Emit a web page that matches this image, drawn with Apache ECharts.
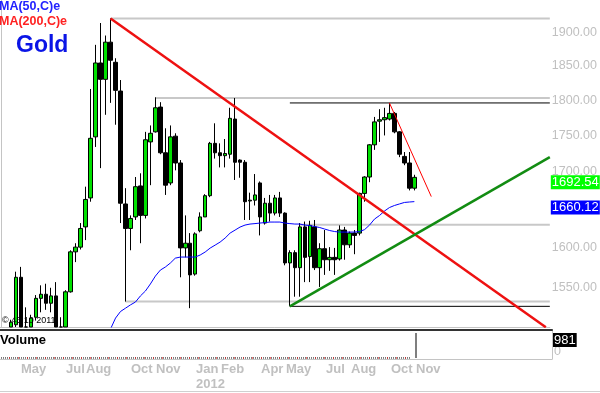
<!DOCTYPE html>
<html>
<head>
<meta charset="utf-8">
<style>
  html, body { margin: 0; padding: 0; background: #fff; }
  #chart { width: 600px; height: 393px; }
</style>
<script src="https://cdn.jsdelivr.net/npm/echarts@6/dist/echarts.min.js"></script>
</head>
<body>
<div id="chart"></div>
<script>
/* ===== Gold weekly chart (week index 0 = week of 4 Apr 2011) ===== */

const firstWeek = 2;
// [open, close, low, high]
const candles = [
  [1492, 1508, 1485, 1511], [1505, 1563, 1500, 1570], [1563, 1491, 1462, 1576], [1496, 1492, 1478, 1526],
  [1494, 1513, 1480, 1517], [1514, 1537, 1510, 1541], [1537, 1542, 1520, 1553], [1542, 1531, 1523, 1555],
  [1531, 1540, 1520, 1550], [1540, 1500, 1495, 1557], [1500, 1485, 1478, 1514], [1485, 1545, 1482, 1547],
  [1545, 1595, 1544, 1597], [1595, 1601, 1582, 1606], [1601, 1625, 1598, 1632], [1627, 1663, 1610, 1680],
  [1665, 1746, 1660, 1816], [1748, 1854, 1734, 1881], [1854, 1830, 1705, 1914], [1830, 1885, 1779, 1895],
  [1885, 1858, 1796, 1921], [1855, 1814, 1765, 1861], [1813, 1658, 1632, 1829], [1657, 1625, 1533, 1678],
  [1625, 1638, 1597, 1642], [1640, 1680, 1636, 1693], [1681, 1642, 1606, 1698], [1642, 1744, 1638, 1755],
  [1741, 1753, 1682, 1764], [1755, 1789, 1754, 1804], [1790, 1726, 1724, 1797], [1726, 1682, 1669, 1760],
  [1685, 1748, 1682, 1764], [1749, 1712, 1702, 1753], [1712, 1600, 1563, 1716], [1600, 1606, 1588, 1642],
  [1606, 1566, 1525, 1619], [1567, 1618, 1565, 1620], [1622, 1640, 1620, 1646], [1640, 1668, 1640, 1670],
  [1668, 1739, 1666, 1741], [1739, 1726, 1718, 1767], [1726, 1722, 1706, 1739], [1722, 1725, 1706, 1745],
  [1724, 1774, 1718, 1789], [1773, 1713, 1689, 1803], [1716, 1713, 1692, 1717], [1713, 1660, 1636, 1716],
  [1661, 1662, 1636, 1672], [1662, 1669, 1655, 1697], [1685, 1640, 1616, 1687], [1632, 1658, 1630, 1665],
  [1658, 1645, 1634, 1669], [1645, 1665, 1642, 1669], [1665, 1645, 1640, 1673], [1645, 1581, 1578, 1646],
  [1581, 1594, 1527.24, 1597], [1594, 1575, 1539, 1597], [1575, 1627, 1539, 1632], [1627, 1588, 1557, 1634],
  [1589, 1629, 1557, 1635], [1627, 1575, 1572, 1636], [1575, 1599, 1551, 1606], [1599, 1585, 1566, 1623],
  [1585, 1588, 1571, 1601], [1588, 1585, 1566, 1600], [1586, 1623, 1584, 1629], [1623, 1604, 1585, 1627],
  [1604, 1619, 1600, 1621], [1619, 1616, 1592, 1623], [1619, 1671, 1616, 1672], [1671, 1693, 1660, 1694],
  [1693, 1737, 1686, 1738], [1737, 1769, 1730, 1776], [1770, 1772, 1741, 1787], [1772, 1775, 1750, 1789],
  [1773, 1781, 1771, 1795.9], [1781, 1755, 1753, 1783], [1755, 1724, 1720, 1756], [1721, 1712, 1709, 1727],
  [1712, 1678, 1675, 1727], [1678, 1692.54, 1675, 1696]
];

const ma50Start = 22;
const ma50 = [
  1500, 1513, 1521, 1525, 1529, 1532.5, 1540, 1546, 1554.7, 1564.5, 1572, 1575.8, 1580.8, 1587,
  1588.4, 1588.4, 1588.4, 1588.4, 1591, 1594.8, 1599.8, 1603.6, 1607.5, 1612.6, 1619, 1622.9,
  1626.8, 1629.4, 1630.7, 1631.3, 1632, 1632.6, 1633.3, 1633.3, 1633.3, 1632, 1631.3, 1630.7,
  1630.7, 1629.4, 1628.8, 1627.5, 1626.2, 1624.2, 1622.3, 1621, 1620.3, 1620.3, 1620.3, 1620.3,
  1621, 1623.5, 1629.4, 1637.2, 1641.8, 1647.7, 1652.3, 1655, 1657, 1659, 1659.6, 1660.12
];

// weeks 0..83, only the last week has a volume
const volumes = new Array(83).fill(0).concat([981]);

const monthTickWeeks = [4, 13, 17, 26, 31, 39, 44, 52, 57, 65, 70, 78, 83];
const monthTickLabels = ['May', 'Jul', 'Aug', 'Oct', 'Nov', 'Jan\n2012', 'Feb', 'Apr', 'May', 'Jul', 'Aug', 'Oct', 'Nov'];
const priceTicks = [1550, 1600, 1650, 1700, 1750, 1800, 1850, 1900, 1950];

const weekMin = -0.2;
const weekMax = 110.2;
const priceMin = 1502.3;
const priceMax = 1949.4;

const downTrend = [[22, 1921], [109.4, 1502]];
const upTrend = [[58, 1527.24], [weekMax, 1720]];
const shortDownTrend = [[78, 1795.9], [86.4, 1666.8]];
const grayLevels = [[22, 1921], [31, 1803], [25, 1533], [60, 1629.87]];
const fibLevels = [[58, 1795.90], [58, 1527.24]];
const levelNotes = [
  ['1.921', 59.2, 1904.8],
  ['1.803', 53.3, 1814.4],
  ['1.630', 65.3, 1642.4],
  ['1.533', 48.2, 1544.7],
  ['0.000 (1795.90)', 87, 1805.7],
  ['1.000 (1527.24)', 87, 1537.4]
];
const fibNote = ['0.618 (1629.86812)', 89.2, 1641];

const lastClose = 1692.54;
const lastMa50 = 1660.12;
const lastVolume = 981;

const font = '"Liberation Sans", Arial, sans-serif';
const axisGray = '#c4c4c4';
const ln = Math.log;
// candlestick clip only drops whole boxes, so cut prices at the plot floor
const lnClamped = v => ln(Math.max(v, priceMin));

function levelSeries(start, price, color, width) {
  return {
    type: 'line',
    xAxisIndex: 0,
    yAxisIndex: 0,
    silent: true,
    symbol: 'none',
    lineStyle: { color: color, width: width },
    data: [[start, ln(price)], [weekMax, ln(price)]],
    z: 1,
  };
}

function trendSeries(points, color, width) {
  return {
    type: 'line',
    xAxisIndex: 0,
    yAxisIndex: 0,
    silent: true,
    symbol: 'none',
    clip: true,
    lineStyle: { color: color, width: width },
    data: points.map(p => [p[0], ln(p[1])]),
    z: 5,
  };
}

function noteSeries(notes, color) {
  return {
    type: 'scatter',
    xAxisIndex: 0,
    yAxisIndex: 0,
    silent: true,
    symbolSize: 1,
    itemStyle: { opacity: 0 },
    label: {
      show: true,
      position: 'inside',
      formatter: '{b}',
      color: color,
      fontFamily: font,
      fontSize: 12.5,
      fontWeight: 'bold',
    },
    data: notes.map(n => ({ name: n[0], value: [n[1], ln(n[2])] })),
    z: 3,
  };
}

function endBox(value, text, bg, vAlign) {
  return {
    silent: true,
    symbol: 'none',
    lineStyle: { color: 'rgba(0,0,0,0)', width: 1 },
    label: {
      show: true,
      position: 'end',
      distance: 1,
      verticalAlign: vAlign,
      formatter: () => text,
      color: '#fff',
      backgroundColor: bg,
      padding: [1, 1, 0, 1],
      fontFamily: font,
      fontSize: 13,
    },
    data: [{ yAxis: value }],
  };
}

function zeroVolumeLine(color, dash, offset) {
  return {
    type: 'line',
    xAxisIndex: 1,
    yAxisIndex: 1,
    silent: true,
    symbol: 'none',
    clip: false,
    lineStyle: { color: color, width: 1, type: dash, dashOffset: offset },
    data: volumes.map((v, k) => [k, v]).filter(p => p[1] === 0),
    z: 10,
  };
}

const chart = echarts.init(document.getElementById('chart'));

chart.setOption({
  animation: false,
  backgroundColor: '#fff',
  title: [
    { text: 'MA(50,C)e', left: -1, top: 0, padding: 0, textStyle: { color: '#2222ff', fontSize: 12.5, fontWeight: 'bold', fontFamily: font } },
    { text: 'MA(200,C)e', left: -1, top: 15, padding: 0, textStyle: { color: '#ff2222', fontSize: 12.5, fontWeight: 'bold', fontFamily: font } },
    { text: 'Gold', left: 16, top: 34, padding: 0, textStyle: { color: '#0a14e6', fontSize: 23, fontWeight: 'bold', fontFamily: font } },
    { text: 'Volume', left: 0, top: 334, padding: 0, textStyle: { color: '#000', fontSize: 13, fontWeight: 'bold', fontFamily: font } },
    { text: '© 43 10 2011', left: 2, top: 316, padding: 0, textStyle: { color: '#000', fontSize: 9, fontWeight: 'normal', fontFamily: font } },
  ],
  grid: [
    { left: 0, width: 552, top: 0, height: 327 },
    { left: 0, width: 552, top: 330, height: 29 },
  ],
  xAxis: [
    {
      type: 'value', gridIndex: 0, min: weekMin, max: weekMax,
      axisLine: { show: true, onZero: false, lineStyle: { color: axisGray, width: 1 } },
      axisTick: { show: false }, axisLabel: { show: false }, splitLine: { show: false },
    },
    {
      type: 'value', gridIndex: 1, min: weekMin, max: weekMax,
      axisLine: { show: true, onZero: false, lineStyle: { color: axisGray, width: 1 } },
      axisTick: { show: false },
      splitLine: { show: false },
      axisLabel: {
        customValues: monthTickWeeks,
        formatter: v => monthTickLabels[monthTickWeeks.indexOf(Math.round(v))] || '',
        align: 'left',
        margin: 3,
        color: '#c0c0c0',
        fontFamily: font,
        fontSize: 13,
        fontWeight: 'bold',
        lineHeight: 15,
      },
    },
    {
      type: 'value', gridIndex: 1, min: weekMin, max: weekMax, position: 'top',
      axisLine: { show: true, onZero: false, lineStyle: { color: '#333', width: 2 } },
      axisTick: { show: false }, axisLabel: { show: false }, splitLine: { show: false },
    },
  ],
  yAxis: [
    {
      type: 'value', gridIndex: 0, position: 'right',
      min: ln(priceMin), max: ln(priceMax),
      axisLine: { show: true, lineStyle: { color: axisGray, width: 1 } },
      axisTick: { show: false },
      splitLine: { show: false },
      axisLabel: {
        customValues: priceTicks.map(ln),
        formatter: v => Math.exp(v).toFixed(2),
        margin: 2,
        color: '#c0c0c0',
        fontFamily: font,
        fontSize: 12.5,
      },
    },
    {
      type: 'value', gridIndex: 1, position: 'right',
      min: -40, max: 1100,
      axisLine: { show: true, onZero: false, lineStyle: { color: axisGray, width: 1 } },
      axisTick: { show: false },
      splitLine: { show: false },
      axisLabel: {
        customValues: [0],
        formatter: v => String(v),
        margin: 2,
        verticalAlign: 'bottom',
        color: '#c0c0c0',
        fontFamily: font,
        fontSize: 12.5,
      },
    },
  ],
  graphic: [
    { type: 'line', silent: true, shape: { x1: 0, y1: 391.5, x2: 600, y2: 391.5 }, style: { stroke: '#d0d0d0', lineWidth: 1 } },
  ],
  series: [
    ...grayLevels.map(l => levelSeries(l[0], l[1], '#c8c8c8', 2)),
    ...fibLevels.map(l => levelSeries(l[0], l[1], '#000', 1)),
    noteSeries([fibNote], '#c0c0c0'),
    noteSeries(levelNotes, '#1a1a1a'),
    {
      name: 'Gold',
      type: 'candlestick',
      xAxisIndex: 0,
      yAxisIndex: 0,
      barWidth: 4,
      clip: true,
      encode: { x: 0, y: [1, 2, 3, 4] },
      itemStyle: {
        color: '#00e000',
        color0: '#000',
        borderColor: '#000',
        borderColor0: '#000',
        borderWidth: 1,
      },
      data: candles.map((c, k) => [firstWeek + k, ...c.map(lnClamped)]),
      markLine: endBox(ln(lastClose), lastClose.toFixed(2), '#00ff00', 'middle'),
      z: 3,
    },
    {
      name: 'MA(50,C)e',
      type: 'line',
      xAxisIndex: 0,
      yAxisIndex: 0,
      symbol: 'none',
      clip: true,
      lineStyle: { color: '#0000ff', width: 1 },
      data: ma50.map((v, k) => [ma50Start + k, ln(v)]),
      markLine: endBox(ln(lastMa50), lastMa50.toFixed(2), '#0000ff', 'middle'),
      z: 4,
    },
    trendSeries(downTrend, '#ee1111', 2.5),
    trendSeries(upTrend, '#128c12', 2.5),
    trendSeries(shortDownTrend, '#ff0000', 1),
    {
      name: 'Volume',
      type: 'bar',
      xAxisIndex: 1,
      yAxisIndex: 1,
      barWidth: 1,
      itemStyle: { color: '#000' },
      data: volumes.map((v, k) => [k, v]),
      markLine: endBox(lastVolume, String(lastVolume), '#000', 'top'),
    },
    zeroVolumeLine('#000', 'dotted', 0),
    zeroVolumeLine('#ff0000', [1, 8], 1),
  ],
});

window.addEventListener('resize', () => {
  chart.resize();
});
</script>
</body>
</html>
